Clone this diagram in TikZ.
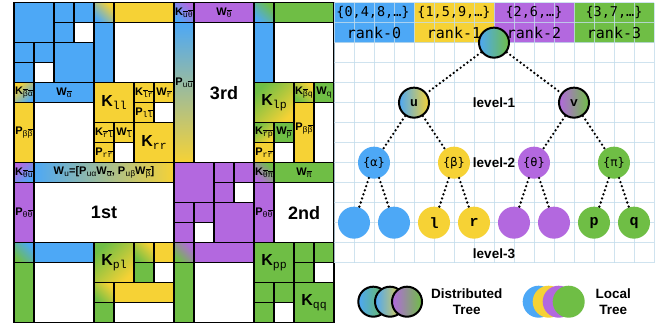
\documentclass[tikz,border=0pt]{standalone}
\usepackage{fontspec}
\setmainfont{Liberation Sans}
\newfontfamily\cour{Liberation Mono}
\newfontfamily\menlo{DejaVu Sans Mono}

\definecolor{cb}{HTML}{4DA8F6}
\definecolor{cy}{HTML}{F6D235}
\definecolor{cp}{HTML}{B368DF}
\definecolor{cg}{HTML}{6FBE45}
\definecolor{gridc}{HTML}{C3DDEC}

% overlined subscript letter
\newcommand\ob[1]{$\overline{\mbox{#1}}$}
% block labels: bold letter with typewriter subscript
\newcommand\lbs[2]{\textbf{#1}\raisebox{-0.3ex}{\cour\fontsize{8.3}{8.3}\selectfont #2}}
\newcommand\lbb[2]{\textbf{#1}\raisebox{-0.35ex}{\cour\fontsize{11.5}{11.5}\selectfont #2}}
% one block of the matrix: column, row, width, height, fill style
\newcommand\blk[5]{\draw[mline,#5] (#1,#2) rectangle ++(#3,#4);}

\tikzset{
  mline/.style={draw=black, line width=1.2pt},
  mb/.style={fill=cb}, my/.style={fill=cy}, mp/.style={fill=cp},
  mg/.style={fill=cg}, mw/.style={fill=white},
  sh/.style n args={3}{top color=#1, bottom color=#2, shading angle=#3},
  ls/.style={font=\fontsize{11}{11}\selectfont, inner sep=0pt},
  lbig/.style={font=\fontsize{16}{16}\selectfont, inner sep=0pt},
  ord/.style={font=\fontsize{18}{18}\selectfont\bfseries, inner sep=0pt},
  dnode/.style={circle, draw=black, line width=2pt, minimum size=30pt, inner sep=0pt,
    font=\cour\bfseries\fontsize{13}{13}\selectfont},
  lnode/.style={circle, minimum size=32pt, inner sep=0pt},
  dotedge/.style={line width=2.6pt, line cap=round, dash pattern=on 0pt off 4.3pt},
  lvl/.style={font=\bfseries\fontsize{13.5}{13.5}\selectfont, inner sep=0pt},
  hdr/.style={font=\menlo\fontsize{13.5}{13.5}\selectfont, inner sep=0pt},
  rnk/.style={font=\menlo\fontsize{15}{15}\selectfont, inner sep=0pt},
  gline/.style={gridc, line width=0.8pt, opacity=0.8},
}

\begin{document}
\begin{tikzpicture}[x=1pt, y=-1pt]
\useasboundingbox (0,0) rectangle (662,328);
\fill[white] (0,0) rectangle (662,328);

% ---------------- hierarchical matrix ----------------
\begin{scope}[xshift=14pt, yshift=-2.67pt, x=20pt, y=-20pt]
% alpha diagonal block
\blk{0}{0}{2}{2}{mb}
\blk{2}{0}{1}{1}{mb}
\blk{3}{0}{1}{1}{mb}
\blk{2}{1}{1}{1}{mb}
\blk{3}{1}{1}{1}{mw}
\blk{0}{2}{1}{1}{mb}
\blk{1}{2}{1}{1}{mb}
\blk{0}{3}{1}{1}{mb}
\blk{1}{3}{1}{1}{mw}
\blk{2}{2}{2}{2}{mb}
% alpha-beta coupling
\blk{4}{0}{1}{1}{sh={cy}{cb}{-45}}
\blk{5}{0}{3}{1}{my}
\blk{4}{1}{1}{3}{mb}
\blk{5}{1}{3}{3}{mw}
\blk{0}{4}{1}{1}{sh={cy}{cb}{45}}
\blk{1}{4}{3}{1}{mb}
\blk{0}{5}{1}{3}{my}
\blk{1}{5}{3}{3}{mw}
% beta diagonal block
\blk{4}{4}{2}{2}{my}
\blk{6}{4}{1}{1}{my}
\blk{7}{4}{1}{1}{my}
\blk{6}{5}{1}{1}{my}
\blk{7}{5}{1}{1}{mw}
\blk{4}{6}{1}{1}{my}
\blk{5}{6}{1}{1}{my}
\blk{4}{7}{1}{1}{my}
\blk{5}{7}{1}{1}{mw}
\blk{6}{6}{2}{2}{my}
% upper right quadrant
\blk{8}{0}{1}{1}{sh={cp}{cb}{-45}}
\blk{9}{0}{3}{1}{mp}
\blk{8}{1}{1}{7}{sh={cb}{cy}{0}}
\blk{9}{1}{3}{7}{mw}
\blk{12}{0}{1}{1}{sh={cg}{cb}{-45}}
\blk{13}{0}{3}{1}{mg}
\blk{12}{1}{1}{3}{mb}
\blk{13}{1}{3}{3}{mw}
\blk{12}{4}{2}{2}{sh={cg}{cy}{45}}
\blk{14}{4}{1}{1}{sh={cy}{cg}{-45}}
\blk{15}{4}{1}{1}{mg}
\blk{14}{5}{1}{3}{my}
\blk{15}{5}{1}{3}{mw}
\blk{12}{6}{1}{1}{sh={cg}{cy}{45}}
\blk{13}{6}{1}{1}{mg}
\blk{12}{7}{1}{1}{my}
\blk{13}{7}{1}{1}{mw}
% lower left quadrant
\blk{0}{8}{1}{1}{sh={cp}{cb}{45}}
\blk{1}{8}{7}{1}{left color=cb, right color=cy}
\blk{0}{9}{1}{3}{mp}
\blk{1}{9}{7}{3}{mw}
\blk{0}{12}{1}{1}{sh={cb}{cg}{-45}}
\blk{1}{12}{3}{1}{mb}
\blk{0}{13}{1}{3}{mg}
\blk{1}{13}{3}{3}{mw}
\blk{4}{12}{2}{2}{sh={cg}{cy}{45}}
\blk{6}{12}{1}{1}{sh={cy}{cg}{-45}}
\blk{7}{12}{1}{1}{my}
\blk{6}{13}{1}{1}{mg}
\blk{7}{13}{1}{1}{mw}
\blk{4}{14}{1}{1}{sh={cy}{cg}{-45}}
\blk{5}{14}{3}{1}{my}
\blk{4}{15}{1}{1}{mg}
\blk{5}{15}{3}{1}{mw}
% theta diagonal block
\blk{8}{8}{2}{2}{mp}
\blk{10}{8}{1}{1}{mp}
\blk{11}{8}{1}{1}{mp}
\blk{10}{9}{1}{1}{mp}
\blk{11}{9}{1}{1}{mw}
\blk{8}{10}{1}{1}{mp}
\blk{9}{10}{1}{1}{mp}
\blk{8}{11}{1}{1}{mp}
\blk{9}{11}{1}{1}{mw}
\blk{10}{10}{2}{2}{mp}
% theta-pi coupling
\blk{12}{8}{1}{1}{sh={cg}{cp}{-45}}
\blk{13}{8}{3}{1}{mg}
\blk{12}{9}{1}{3}{mp}
\blk{13}{9}{3}{3}{mw}
\blk{8}{12}{1}{1}{sh={cp}{cg}{-45}}
\blk{9}{12}{3}{1}{mp}
\blk{8}{13}{1}{3}{mg}
\blk{9}{13}{3}{3}{mw}
% pi diagonal block
\blk{12}{12}{2}{2}{mg}
\blk{14}{12}{1}{1}{mg}
\blk{15}{12}{1}{1}{mg}
\blk{14}{13}{1}{1}{mg}
\blk{15}{13}{1}{1}{mw}
\blk{12}{14}{1}{1}{mg}
\blk{13}{14}{1}{1}{mg}
\blk{12}{15}{1}{1}{mg}
\blk{13}{15}{1}{1}{mw}
\blk{14}{14}{2}{2}{mg}

% block labels
\node[ls] (kba) at (0.5,4.5) {\lbs{K}{\ob{β}\ob{α}}};
\node[ls] (wa) at (2.5,4.5) {\lbs{W}{\ob{α}}};
\node[lbig] (kll) at (5,5) {\lbb{K}{ll}};
\node[ls] (klr) at (6.5,4.5) {\lbs{K}{\ob{l}\ob{r}}};
\node[ls] (wr) at (7.5,4.5) {\lbs{W}{\ob{r}}};
\node[ls] (pll) at (6.5,5.5) {\lbs{P}{l\ob{l}}};
\node[ls] (krl) at (4.5,6.5) {\lbs{K}{\ob{r}\ob{l}}};
\node[ls] (wl) at (5.5,6.5) {\lbs{W}{\ob{l}}};
\node[ls] (prr) at (4.5,7.5) {\lbs{P}{r\ob{r}}};
\node[lbig] (krr) at (7,7) {\lbb{K}{rr}};
\node[ls] (pbb) at (0.5,6.5) {\lbs{P}{β\ob{β}}};
\node[ls] (kut) at (8.5,0.5) {\lbs{K}{\ob{u}\ob{θ}}};
\node[ls] (wt) at (10.5,0.5) {\lbs{W}{\ob{θ}}};
\node[ls] (puu) at (8.5,4.0) {\lbs{P}{u\ob{u}}};
\node[ord] (third) at (10.5,4.5) {3rd};
\node[lbig] (klp) at (13,5) {\lbb{K}{lp}};
\node[ls] (kbq) at (14.5,4.5) {\lbs{K}{\ob{β}q}};
\node[ls] (wq) at (15.5,4.5) {\lbs{W}{q}};
\node[ls] (pbb2) at (14.5,6.3) {\lbs{P}{β\ob{β}}};
\node[ls] (krp) at (12.5,6.5) {\lbs{K}{\ob{r}\ob{p}}};
\node[ls] (wp) at (13.5,6.5) {\lbs{W}{\ob{p}}};
\node[ls] (prr2) at (12.5,7.5) {\lbs{P}{r\ob{r}}};
\node[ls] (ktu) at (0.5,8.5) {\lbs{K}{\ob{θ}\ob{u}}};
\node[ls] (wu) at (4.5,8.5) {\lbs{W}{u}\textbf{=[}\lbs{P}{uα}\lbs{W}{\ob{α}}\textbf{, }\lbs{P}{uβ}\lbs{W}{\ob{β}}\textbf{]}};
\node[ls] (ptt) at (0.5,10.5) {\lbs{P}{θ\ob{θ}}};
\node[ord] (first) at (4.5,10.5) {1st};
\node[lbig] (kpl) at (5,13) {\lbb{K}{pl}};
\node[ls] (ktp) at (12.5,8.5) {\lbs{K}{\ob{θ}\ob{π}}};
\node[ls] (wpi) at (14.5,8.5) {\lbs{W}{\ob{π}}};
\node[ls] (ptt2) at (12.5,10.5) {\lbs{P}{θ\ob{θ}}};
\node[ord] (second) at (14.5,10.5) {2nd};
\node[lbig] (kpp) at (13,13) {\lbb{K}{pp}};
\node[lbig] (kqq) at (15,15) {\lbb{K}{qq}};
\end{scope}

% ---------------- process tree ----------------
% rank header
\fill[cb] (334,2.67) rectangle (414,42.67);
\fill[cy] (414,2.67) rectangle (494,42.67);
\fill[cp] (494,2.67) rectangle (574,42.67);
\fill[cg] (574,2.67) rectangle (654,42.67);
% background grid
\foreach \i in {0,...,16} \draw[gline] (334+20*\i,2.67) -- (334+20*\i,262.67);
\foreach \j in {0,...,13} \draw[gline] (334,2.67+20*\j) -- (654,2.67+20*\j);
\node[hdr] (s0) at (373,12.67) {\{0,4,8,…\}};
\node[hdr] (s1) at (454,12.67) {\{1,5,9,…\}};
\node[hdr] (s2) at (534,12.67) {\{2,6,…\}};
\node[hdr] (s3) at (614,12.67) {\{3,7,…\}};
\node[rnk] (r0) at (374,32.67) {rank-0};
\node[rnk] (r1) at (454,32.67) {rank-1};
\node[rnk] (r2) at (534,32.67) {rank-2};
\node[rnk] (r3) at (614,32.67) {rank-3};

% distributed levels
\node[dnode, left color=cb, right color=cg] (root) at (494,42.67) {};
\node[dnode, left color=cb, right color=cy] (u) at (414,102.67) {u};
\node[dnode, left color=cp, right color=cg] (v) at (574,102.67) {v};
% local levels
\node[lnode, fill=cb, font=\menlo\fontsize{12}{12}\selectfont] (al) at (374,162.67) {\{α\}};
\node[lnode, fill=cy, font=\menlo\fontsize{12}{12}\selectfont] (be) at (454,162.67) {\{β\}};
\node[lnode, fill=cp, font=\menlo\fontsize{12}{12}\selectfont] (th) at (534,162.67) {\{θ\}};
\node[lnode, fill=cg, font=\menlo\fontsize{12}{12}\selectfont] (pi) at (614,162.67) {\{π\}};
\begin{scope}[every node/.append style={font=\cour\bfseries\fontsize{15}{15}\selectfont}]
\node[lnode, fill=cb] (a1) at (354,222.67) {};
\node[lnode, fill=cb] (a2) at (394,222.67) {};
\node[lnode, fill=cy] (b1) at (434,222.67) {l};
\node[lnode, fill=cy] (b2) at (474,222.67) {r};
\node[lnode, fill=cp] (t1) at (514,222.67) {};
\node[lnode, fill=cp] (t2) at (554,222.67) {};
\node[lnode, fill=cg] (p1) at (594,222.67) {p};
\node[lnode, fill=cg] (p2) at (634,222.67) {q};
\end{scope}

\draw[dotedge] (root) -- (u);
\draw[dotedge] (root) -- (v);
\draw[dotedge] (u) -- (al);
\draw[dotedge] (u) -- (be);
\draw[dotedge] (v) -- (th);
\draw[dotedge] (v) -- (pi);
\draw[dotedge] (al) -- (a1);
\draw[dotedge] (al) -- (a2);
\draw[dotedge] (be) -- (b1);
\draw[dotedge] (be) -- (b2);
\draw[dotedge] (th) -- (t1);
\draw[dotedge] (th) -- (t2);
\draw[dotedge] (pi) -- (p1);
\draw[dotedge] (pi) -- (p2);

\node[lvl] (lv1) at (494,102.67) {level-1};
\node[lvl] (lv2) at (494,163) {level-2};
\node[lvl] (lv3) at (494,253.3) {level-3};

% legend
\node[dnode, left color=cb, right color=cg] (d1) at (373.3,301.7) {};
\node[dnode, left color=cb, right color=cy] (d2) at (390,301.7) {};
\node[dnode, left color=cp, right color=cg] (d3) at (407,301.7) {};
\node[lvl, align=center, font=\bfseries\fontsize{13.5}{16.5}\selectfont] (dlab) at (466.7,301.7) {Distributed\\Tree};
\node[lnode, fill=cb] (e1) at (538.7,301.7) {};
\node[lnode, fill=cy] (e2) at (548.7,301.7) {};
\node[lnode, fill=cp] (e3) at (558.7,301.7) {};
\node[lnode, fill=cg] (e4) at (568.7,301.7) {};
\node[lvl, align=center, font=\bfseries\fontsize{13.5}{16.5}\selectfont] (llab) at (613.3,301.7) {Local\\Tree};
\end{tikzpicture}
\end{document}
